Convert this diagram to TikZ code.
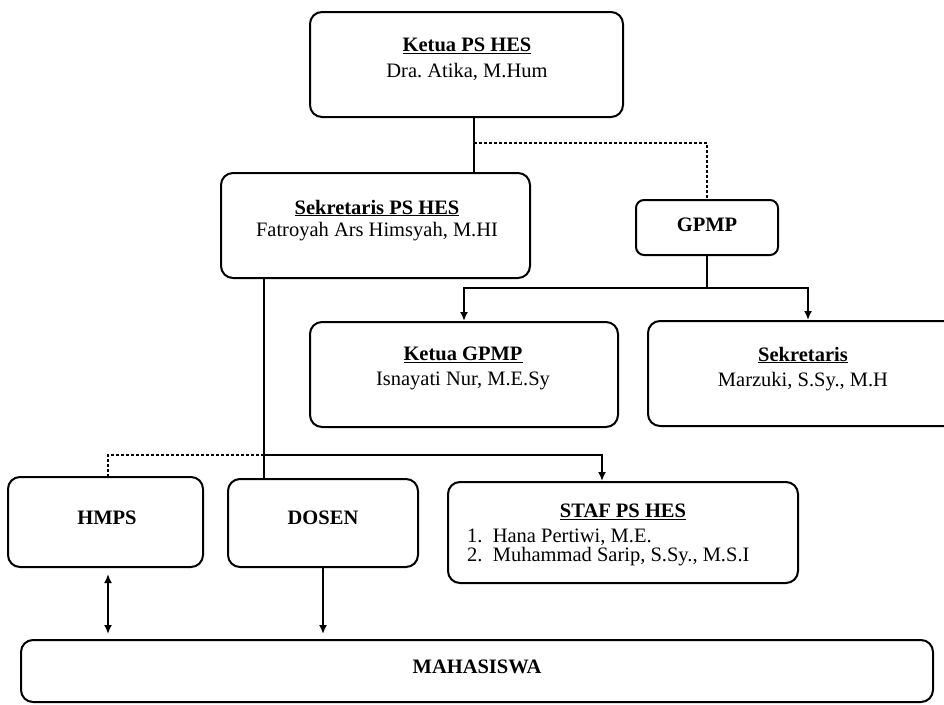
\documentclass[tikz,border=0pt]{standalone}
\usepackage{fontspec}
\setmainfont{Liberation Serif}
\usetikzlibrary{arrows.meta}
\frenchspacing
\begin{document}
\frenchspacing
\begin{tikzpicture}[x=1pt,y=-1pt,
  box/.style={draw, line width=2pt, rounded corners=12pt, inner sep=0pt},
  conn/.style={line width=1.8pt},
  dsh/.style={line width=1.6pt, dash pattern=on 3pt off 2pt},
  arr/.style={conn, -{Latex[length=9pt,width=8pt]}},
  darr/.style={conn, {Latex[length=9pt,width=8pt]}-{Latex[length=9pt,width=8pt]}},
  tb/.style={font=\fontsize{20.5}{24}\selectfont\bfseries, inner sep=0pt},
  tr/.style={font=\fontsize{20.5}{24}\selectfont, inner sep=0pt}]
\clip (0,0) rectangle (944,704);
\fill[white] (0,0) rectangle (944,704);

% boxes
\node[box, minimum width=313pt, minimum height=105pt] (ketua) at (466.5,64.5) {};
\node[tb] (ketuaT) at (467,46) {\underline{Ketua PS HES}};
\node[tr] (ketuaN) at (467,72) {Dra. Atika, M.Hum};

\node[box, minimum width=309pt, minimum height=105pt] (sekr) at (375.5,225.5) {};
\node[tb] (sekrT) at (377,208) {\underline{Sekretaris PS HES}};
\node[tr] (sekrN) at (377,232) {Fatroyah Ars Himsyah, M.HI};

\node[box, rounded corners=8pt, minimum width=142pt, minimum height=55pt] (gpmp) at (707,227.5) {};
\node[tb] (gpmpT) at (707,225) {GPMP};

\node[box, minimum width=308pt, minimum height=105pt] (kgpmp) at (464,374.5) {};
\node[tb] (kgpmpT) at (463,355) {\underline{Ketua GPMP}};
\node[tr] (kgpmpN) at (463,381) {Isnayati Nur, M.E.Sy};

\node[box, minimum width=310pt, minimum height=105pt] (sgpmp) at (803,373.5) {};
\node[tb] (sgpmpT) at (803,355) {\underline{Sekretaris}};
\node[tr] (sgpmpN) at (803,382) {Marzuki, S.Sy., M.H};

\node[box, minimum width=195pt, minimum height=90pt] (hmps) at (105.5,522) {};
\node[tb] (hmpsT) at (107,518) {HMPS};

\node[box, minimum width=190pt, minimum height=88pt] (dosen) at (323,523) {};
\node[tb] (dosenT) at (323,518) {DOSEN};

\node[box, minimum width=350pt, minimum height=101pt] (staf) at (623,532.5) {};
\node[tb] (stafT) at (623,512) {\underline{STAF PS HES}};
\node[tr, anchor=west] (staf1) at (467,537) {1.\ \ Hana Pertiwi, M.E.};
\node[tr, anchor=west] (staf2) at (467,557) {2.\ \ Muhammad Sarip, S.Sy., M.S.I};

\node[box, minimum width=912pt, minimum height=62pt] (maha) at (477,671) {};
\node[tb] (mahaT) at (477,667) {MAHASISWA};

% junctions
\coordinate (j1) at (474,143);
\coordinate (j2) at (707,288);
\coordinate (j3) at (264,455);

% connectors
\draw[conn] ([xshift=7.5pt]ketua.south) -- ([xshift=7.5pt]ketua.south |- sekr.north);
\draw[dsh] (j1) -| (gpmp.north);
\draw[conn] (gpmp.south) -- (j2);
\draw[arr] (j2) -| (kgpmp.north);
\draw[arr] (j2) -| ([xshift=5pt]sgpmp.north);
\draw[conn] (sekr.south -| j3) -- (j3 |- dosen.north);
\draw[dsh] (j3) -| ([xshift=2.5pt]hmps.north);
\draw[arr] (j3) -| ([xshift=-21pt]staf.north);
\draw[darr] ([xshift=2.5pt,yshift=-6pt]hmps.south) -- ([xshift=2.5pt,yshift=5pt]hmps.south |- maha.north);
\draw[arr] (dosen.south) -- ([yshift=5pt]dosen.south |- maha.north);
\end{tikzpicture}
\end{document}
